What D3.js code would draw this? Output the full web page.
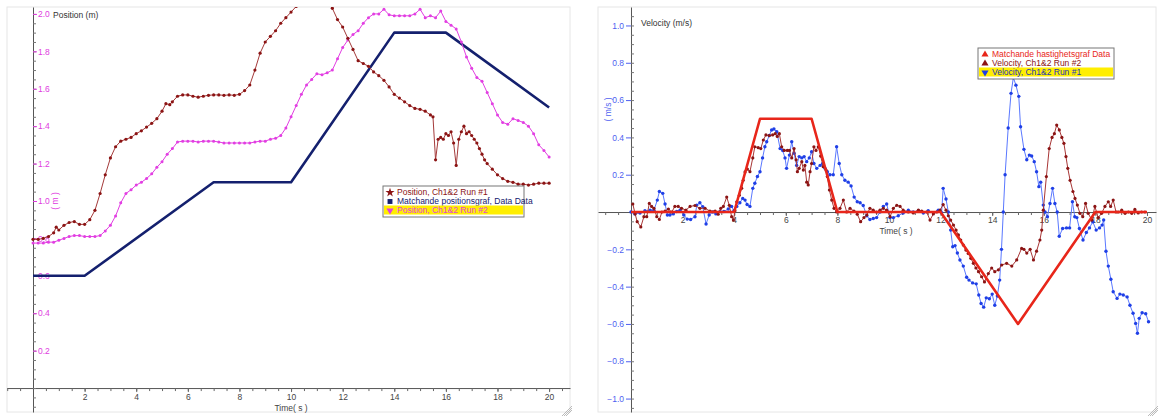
<!DOCTYPE html>
<html><head><meta charset="utf-8">
<script src="https://cdn.jsdelivr.net/npm/d3@7"></script>
<style>
body{margin:0;background:#fff;}
svg{display:block;font-family:"Liberation Sans",Arial,sans-serif;}
</style></head><body>
<svg id="c" width="1158" height="419"></svg>
<script>
// ---------------- DATA ----------------
const xTickLabels = [2,4,6,8,10,12,14,16,18,20];
const posTickLabels = [0.2,0.4,0.6,0.8,1.0,1.2,1.4,1.6,1.8,2.0];
const velTickLabels = [1.0,0.8,0.6,0.4,0.2,-0.2,-0.4,-0.6,-0.8,-1.0];

const posLegend = ["Position, Ch1&2 Run #1","Matchande positionsgraf, Data Data","Position, Ch1&2 Run #2"];
const velLegend = ["Matchande hastighetsgraf Data","Velocity, Ch1&2 Run #2","Velocity, Ch1&2 Run #1"];

// Matching position graph (model)
const posMatch = [[0,0.6],[2,0.6],[7,1.1],[10,1.1],[14,1.9],[16,1.9],[20,1.5]];

// Position Run #1 (brown)
const posRun1 = [[0,0.795],[0.2,0.795],[0.4,0.80],[0.6,0.81],[0.8,0.83],[0.9,0.86],[1.0,0.845],[1.2,0.87],[1.4,0.885],[1.6,0.89],[1.8,0.875],[2.0,0.875],[2.2,0.90],[2.4,0.95],[2.6,1.04],[2.8,1.14],[3.0,1.23],[3.2,1.29],[3.4,1.32],[3.6,1.33],[3.8,1.34],[4.0,1.36],[4.2,1.375],[4.4,1.395],[4.6,1.415],[4.8,1.44],[5.0,1.48],[5.15,1.52],[5.3,1.515],[5.4,1.53],[5.6,1.56],[5.8,1.567],[6.0,1.567],[6.2,1.56],[6.4,1.555],[6.6,1.56],[6.8,1.565],[7.0,1.567],[7.2,1.567],[7.4,1.565],[7.6,1.567],[7.8,1.565],[8.0,1.57],[8.2,1.59],[8.4,1.62],[8.6,1.70],[8.8,1.79],[9.0,1.85],[9.2,1.88],[9.4,1.91],[9.6,1.95],[9.8,1.98],[10.0,2.01],[10.2,2.04],[10.4,2.07],[10.6,2.09],[10.8,2.10],[11.0,2.10],[11.2,2.08],[11.4,2.06],[11.6,2.03],[11.8,1.97],[12.0,1.93],[12.2,1.87],[12.4,1.81],[12.6,1.75],[12.8,1.735],[13.0,1.72],[13.2,1.69],[13.4,1.67],[13.6,1.645],[13.8,1.61],[14.0,1.57],[14.2,1.55],[14.4,1.53],[14.6,1.51],[14.8,1.495],[15.0,1.49],[15.2,1.48],[15.4,1.46],[15.5,1.45],[15.6,1.22],[15.7,1.33],[15.8,1.34],[15.9,1.33],[16.0,1.36],[16.1,1.35],[16.2,1.37],[16.3,1.31],[16.4,1.19],[16.5,1.33],[16.6,1.37],[16.7,1.40],[16.8,1.36],[16.9,1.37],[17.0,1.35],[17.1,1.33],[17.2,1.31],[17.3,1.28],[17.4,1.25],[17.5,1.22],[17.6,1.20],[17.8,1.17],[18.0,1.14],[18.2,1.12],[18.4,1.105],[18.6,1.10],[18.8,1.09],[19.0,1.09],[19.2,1.085],[19.4,1.09],[19.6,1.095],[19.8,1.095],[20.0,1.095]];

// Position Run #2 (magenta)
const posRun2 = [[0,0.775],[0.2,0.775],[0.4,0.775],[0.6,0.78],[0.8,0.78],[1.0,0.79],[1.2,0.80],[1.4,0.81],[1.6,0.815],[1.8,0.815],[2.0,0.81],[2.2,0.81],[2.4,0.81],[2.6,0.815],[2.8,0.84],[3.0,0.87],[3.2,0.92],[3.4,0.99],[3.6,1.04],[3.8,1.06],[4.0,1.085],[4.2,1.10],[4.4,1.12],[4.6,1.145],[4.8,1.18],[5.0,1.21],[5.2,1.25],[5.4,1.28],[5.6,1.315],[5.8,1.32],[6.0,1.32],[6.2,1.32],[6.4,1.315],[6.6,1.32],[6.8,1.32],[7.0,1.32],[7.2,1.315],[7.4,1.31],[7.6,1.31],[7.8,1.31],[8.0,1.31],[8.2,1.31],[8.4,1.31],[8.6,1.315],[8.8,1.32],[9.0,1.32],[9.2,1.33],[9.4,1.335],[9.6,1.35],[9.8,1.39],[10.0,1.45],[10.2,1.51],[10.4,1.57],[10.6,1.62],[10.8,1.65],[11.0,1.68],[11.2,1.675],[11.4,1.685],[11.6,1.70],[11.8,1.76],[12.0,1.82],[12.2,1.86],[12.4,1.89],[12.6,1.91],[12.8,1.95],[13.0,1.98],[13.2,2.00],[13.4,2.00],[13.6,2.025],[13.8,1.995],[14.0,1.99],[14.2,1.99],[14.4,1.99],[14.6,1.99],[14.8,2.00],[15.0,2.025],[15.2,1.98],[15.4,1.99],[15.6,1.98],[15.8,2.015],[16.0,1.96],[16.2,1.94],[16.4,1.92],[16.6,1.85],[16.8,1.77],[17.0,1.71],[17.2,1.66],[17.4,1.64],[17.6,1.58],[17.8,1.52],[18.0,1.46],[18.2,1.42],[18.4,1.41],[18.6,1.44],[18.8,1.43],[19.0,1.42],[19.2,1.40],[19.4,1.36],[19.6,1.30],[19.8,1.27],[20.0,1.235]];

// Matching velocity graph (model)
const velMatch = [[0,0],[4,0],[5,0.5],[7,0.5],[8,0],[12,0],[15,-0.6],[18,0],[20,0]];

// Velocity Run #1 (blue)
const velRun1 = [[0,0],[0.15,-0.01],[0.35,-0.005],[0.54,0.007],[0.74,0.01],[0.89,0.01],[1.02,0.064],[1.1,0.11],[1.23,0.10],[1.32,0.043],[1.41,-0.016],[1.51,-0.016],[1.64,-0.01],[1.77,0.003],[1.9,0.01],[2.05,-0.016],[2.18,-0.038],[2.31,-0.04],[2.48,-0.025],[2.55,0.037],[2.67,0.05],[2.78,0.029],[2.91,-0.064],[3.03,-0.016],[3.17,0],[3.29,-0.01],[3.45,0.003],[3.6,0.003],[3.77,0.016],[3.9,0.03],[3.99,0.007],[4.1,0.03],[4.22,0.05],[4.33,0.073],[4.42,0.064],[4.5,0.04],[4.61,0.03],[4.72,0.127],[4.8,0.154],[4.9,0.19],[5.0,0.216],[5.1,0.29],[5.19,0.35],[5.26,0.377],[5.36,0.41],[5.45,0.44],[5.54,0.445],[5.65,0.43],[5.78,0.34],[5.88,0.33],[5.97,0.29],[6.03,0.234],[6.14,0.305],[6.23,0.377],[6.32,0.315],[6.42,0.25],[6.52,0.297],[6.62,0.29],[6.71,0.297],[6.81,0.27],[6.91,0.29],[7.0,0.323],[7.09,0.26],[7.2,0.234],[7.33,0.25],[7.43,0.26],[7.52,0.234],[7.61,0.216],[7.71,0.2],[7.84,0.2],[7.97,0.35],[8.07,0.26],[8.17,0.2],[8.29,0.17],[8.42,0.16],[8.53,0.14],[8.65,0.08],[8.77,0.055],[8.88,0.05],[9.0,0.035],[9.14,-0.02],[9.26,-0.04],[9.39,-0.035],[9.52,-0.03],[9.65,0],[9.78,0.03],[9.91,0.043],[10.04,-0.03],[10.17,-0.03],[10.36,-0.02],[10.55,-0.005],[10.75,0.01],[10.94,0],[11.14,0.007],[11.33,-0.005],[11.52,0.007],[11.72,-0.003],[11.91,0.01],[12.04,-0.003],[12.1,0.127],[12.21,0.07],[12.3,0],[12.39,-0.097],[12.47,-0.186],[12.56,-0.18],[12.65,-0.22],[12.75,-0.257],[12.88,-0.29],[13.01,-0.35],[13.1,-0.365],[13.24,-0.38],[13.38,-0.385],[13.48,-0.445],[13.57,-0.49],[13.67,-0.51],[13.77,-0.46],[13.89,-0.465],[14.0,-0.44],[14.1,-0.50],[14.2,-0.45],[14.29,-0.365],[14.36,-0.2],[14.43,0],[14.5,0.2],[14.62,0.45],[14.73,0.636],[14.82,0.72],[14.92,0.68],[15.03,0.62],[15.1,0.457],[15.23,0.336],[15.34,0.28],[15.44,0.305],[15.53,0.3],[15.63,0.27],[15.72,0.216],[15.81,0.136],[15.88,0.16],[15.98,0.037],[16.05,0],[16.14,-0.025],[16.24,0.046],[16.34,0.127],[16.43,0.046],[16.52,0],[16.6,-0.13],[16.73,-0.088],[16.88,-0.085],[17.0,-0.085],[17.11,0.055],[17.2,-0.025],[17.28,-0.03],[17.38,-0.088],[17.52,-0.15],[17.65,-0.11],[17.77,-0.085],[17.9,-0.052],[18.03,-0.097],[18.16,-0.085],[18.26,-0.07],[18.32,-0.043],[18.41,-0.21],[18.5,-0.29],[18.6,-0.36],[18.69,-0.427],[18.84,-0.463],[18.95,-0.44],[19.08,-0.445],[19.23,-0.455],[19.34,-0.5],[19.46,-0.543],[19.56,-0.597],[19.63,-0.65],[19.7,-0.57],[19.81,-0.54],[19.95,-0.545],[20.06,-0.588]];

// Velocity Run #2 (dark red)
const velRun2 = [[0.07,0.043],[0.16,-0.01],[0.24,-0.052],[0.38,-0.08],[0.5,-0.025],[0.61,-0.025],[0.71,0.046],[0.8,0.03],[0.89,0.02],[1.0,-0.025],[1.1,-0.04],[1.2,0],[1.32,0.005],[1.45,0.016],[1.58,0],[1.7,0.03],[1.83,0.03],[1.96,0.02],[2.13,0.01],[2.29,0.03],[2.48,0.035],[2.67,0.02],[2.87,0.02],[3.06,0.005],[3.26,0.005],[3.38,-0.012],[3.48,0.02],[3.58,0.03],[3.71,0.08],[3.81,0.036],[3.9,-0.025],[3.97,-0.043],[4.03,0.007],[4.1,0.055],[4.2,0.09],[4.29,0.127],[4.35,0.17],[4.42,0.215],[4.51,0.23],[4.61,0.216],[4.72,0.29],[4.8,0.35],[4.93,0.345],[5.03,0.34],[5.13,0.386],[5.23,0.413],[5.36,0.41],[5.49,0.413],[5.59,0.42],[5.67,0.405],[5.75,0.42],[5.84,0.35],[5.94,0.33],[6.06,0.33],[6.14,0.33],[6.23,0.29],[6.32,0.34],[6.4,0.28],[6.45,0.216],[6.52,0.234],[6.62,0.27],[6.68,0.225],[6.74,0.25],[6.81,0.16],[6.87,0.145],[6.94,0.216],[7.0,0.26],[7.09,0.35],[7.17,0.33],[7.26,0.35],[7.35,0.3],[7.45,0.243],[7.56,0.225],[7.61,0.19],[7.69,0.118],[7.78,0.064],[7.87,0.02],[7.97,0],[8.1,0.02],[8.23,0.064],[8.36,0],[8.49,0.02],[8.64,0.005],[8.77,-0.012],[8.9,-0.052],[9.03,-0.03],[9.14,-0.016],[9.26,0.02],[9.39,0.01],[9.52,0],[9.65,0.01],[9.78,0.02],[9.91,0.01],[10.04,-0.025],[10.17,0.02],[10.3,0.036],[10.43,0.03],[10.55,0.01],[10.75,0],[10.94,-0.005],[11.14,0.01],[11.27,0.005],[11.46,0],[11.59,-0.043],[11.72,-0.01],[11.85,0],[11.98,0.01],[12.1,0.04],[12.21,0.01],[12.3,-0.02],[12.39,-0.043],[12.5,-0.07],[12.6,-0.097],[12.69,-0.123],[12.78,-0.15],[12.88,-0.177],[12.98,-0.204],[13.07,-0.222],[13.17,-0.248],[13.27,-0.275],[13.37,-0.30],[13.47,-0.32],[13.59,-0.347],[13.7,-0.375],[13.85,-0.33],[13.98,-0.30],[14.1,-0.32],[14.24,-0.31],[14.37,-0.284],[14.56,-0.275],[14.76,-0.29],[14.95,-0.257],[15.14,-0.195],[15.23,-0.2],[15.34,-0.22],[15.47,-0.2],[15.6,-0.257],[15.72,-0.21],[15.85,-0.15],[15.92,-0.097],[15.98,0.01],[16.1,0.19],[16.21,0.34],[16.32,0.40],[16.41,0.42],[16.5,0.466],[16.6,0.44],[16.7,0.40],[16.78,0.368],[16.86,0.297],[16.93,0.234],[17.02,0.17],[17.13,0.11],[17.21,0.073],[17.3,0.037],[17.4,-0.007],[17.51,-0.025],[17.62,0.046],[17.72,-0.007],[17.86,-0.043],[17.98,0.03],[18.11,-0.03],[18.24,-0.007],[18.37,0.03],[18.5,0.055],[18.59,0.03],[18.69,0.064],[18.8,0],[18.88,0],[19.02,0.01],[19.15,-0.007],[19.28,0],[19.41,-0.007],[19.53,0.014],[19.66,-0.005],[19.79,0],[19.92,0]];

// ---------------- DRAW ----------------
const svg = d3.select("#c");
const FONT = 8.5;
const C = {
  brown:"#8b1414", brownLine:"#a43a3a", pink:"#e23ee2", navy:"#14206e",
  red:"#e8261a", blue:"#1f3fe6", blueLine:"#5a78ff", darkred:"#8b1414", darkredLine:"#a83636",
  posLbl:"#e03ce0", velLbl:"#4f5ff0", axis:"#555"
};

const PL = {x0:7,x1:570,y0:7,y1:412};
const PR = {x0:598,x1:1156,y0:7,y1:412};

const xL = d3.scaleLinear().domain([-1.008, 20.81]).range([PL.x0, PL.x1]);
const yL = d3.scaleLinear().domain([-0.128, 2.037]).range([PL.y1, PL.y0]);
const xR = d3.scaleLinear().domain([-1.279, 20.349]).range([PR.x0, PR.x1]);
const yR = d3.scaleLinear().domain([-1.072, 1.099]).range([PR.y1, PR.y0]);

function panel(P){
  svg.append("rect").attr("x",P.x0).attr("y",P.y0).attr("width",P.x1-P.x0).attr("height",P.y1-P.y0)
    .attr("fill","#fff").attr("stroke","#e6e6e6");
  const g = svg.append("g").attr("stroke","#aaa").attr("stroke-width",0.8);
  [6,4,2].forEach((d)=>{ g.append("line").attr("x1",P.x1-2-d).attr("y1",P.y1+4).attr("x2",P.x1+2).attr("y2",P.y1-d); });
}
panel(PL); panel(PR);

const defs = svg.append("defs");
defs.append("clipPath").attr("id","clipL").append("rect").attr("x",PL.x0).attr("y",PL.y0).attr("width",PL.x1-PL.x0).attr("height",PL.y1-PL.y0);
defs.append("clipPath").attr("id","clipR").append("rect").attr("x",PR.x0).attr("y",PR.y0).attr("width",PR.x1-PR.x0).attr("height",PR.y1-PR.y0);

function styleAxis(g, color, tickColor){
  g.selectAll(".domain").attr("stroke", C.axis);
  g.selectAll(".tick line").attr("stroke", tickColor);
  g.selectAll(".tick text").attr("fill", color).attr("font-size", FONT).attr("font-family","Liberation Sans, Arial, sans-serif");
}

// ---- Left axes ----
const fmt1 = d3.format(".1f");
const gLxMinor = svg.append("g").attr("transform",`translate(0,${yL(0)})`)
  .call(d3.axisBottom(xL).tickValues(d3.range(-1, 20.76, 0.5)).tickSize(3).tickSizeOuter(0).tickFormat(""));
styleAxis(gLxMinor,"#444","#666");
const gLx = svg.append("g").attr("transform",`translate(0,${yL(0)})`)
  .call(d3.axisBottom(xL).tickValues(xTickLabels).tickSize(4).tickSizeOuter(0).tickPadding(2));
styleAxis(gLx,"#444","#666");
gLx.select(".domain").remove();

const gLyMinor = svg.append("g").attr("transform",`translate(${xL(0)},0)`)
  .call(d3.axisRight(yL).tickValues(d3.range(-0.1, 2.03, 0.05)).tickSize(3).tickSizeOuter(0).tickFormat(""));
styleAxis(gLyMinor,C.posLbl,"#777");
const gLy = svg.append("g").attr("transform",`translate(${xL(0)},0)`)
  .call(d3.axisRight(yL).tickValues(posTickLabels).tickSize(4).tickPadding(1).tickFormat(fmt1));
styleAxis(gLy,C.posLbl,C.posLbl);
gLy.select(".domain").remove();

svg.append("text").attr("x",(xL(0)+xL(20))/2).attr("y",411).attr("text-anchor","middle")
  .attr("font-size",FONT).attr("fill","#444").text("Time( s )");
svg.append("text").attr("x",53).attr("y",18).attr("font-size",FONT).attr("fill","#333").text("Position (m)");
svg.append("text").attr("transform",`translate(58,${yL(1.0)}) rotate(-90)`).attr("text-anchor","middle")
  .attr("font-size",FONT).attr("fill",C.posLbl).text("( m )");

// ---- Right axes ----
const gRxMinor = svg.append("g").attr("transform",`translate(0,${yR(0)})`)
  .call(d3.axisBottom(xR).tickValues(d3.range(-1, 20.3, 0.5)).tickSize(3).tickSizeOuter(0).tickFormat(""));
styleAxis(gRxMinor,"#444","#666");
const gRx = svg.append("g").attr("transform",`translate(0,${yR(0)})`)
  .call(d3.axisBottom(xR).tickValues(xTickLabels).tickSize(4).tickSizeOuter(0).tickPadding(1));
styleAxis(gRx,"#444","#666");
gRx.select(".domain").remove();

const gRyMinor = svg.append("g").attr("transform",`translate(${xR(0)},0)`)
  .call(d3.axisRight(yR).tickValues(d3.range(-1.05, 1.08, 0.05)).tickSize(3).tickSizeOuter(0).tickFormat(""));
styleAxis(gRyMinor,C.velLbl,"#777");
const gRy = svg.append("g").attr("transform",`translate(${xR(0)},0)`)
  .call(d3.axisLeft(yR).tickValues(velTickLabels).tickSize(5).tickPadding(2).tickFormat(fmt1));
styleAxis(gRy,C.velLbl,C.velLbl);
gRy.select(".domain").remove();

svg.append("text").attr("x",896).attr("y",234).attr("text-anchor","middle")
  .attr("font-size",FONT).attr("fill","#444").text("Time( s )");
svg.append("text").attr("x",641).attr("y",26).attr("font-size",FONT).attr("fill","#333").text("Velocity (m/s)");
svg.append("text").attr("transform",`translate(611,${yR(0.55)}) rotate(-90)`).attr("text-anchor","middle")
  .attr("font-size",FONT).attr("fill",C.velLbl).text("( m/s )");

// ---- Series ----
function series(clip, xs, ys, data, lineColor, lw, dotColor, r){
  const g = svg.append("g").attr("clip-path",`url(#${clip})`);
  const line = d3.line().x(d=>xs(d[0])).y(d=>ys(d[1]));
  g.append("path").datum(data).attr("d",line).attr("fill","none").attr("stroke",lineColor)
    .attr("stroke-width",lw).attr("stroke-linejoin","round");
  if(r>0){
    g.selectAll("circle").data(data).join("circle").attr("cx",d=>xs(d[0])).attr("cy",d=>ys(d[1]))
      .attr("r",r).attr("fill",dotColor);
  }
}
series("clipL", xL, yL, posMatch, C.navy, 2.6, null, 0);
series("clipL", xL, yL, posRun2, C.pink, 1, C.pink, 1.5);
series("clipL", xL, yL, posRun1, C.brownLine, 1, C.brown, 1.6);

series("clipR", xR, yR, velRun1, C.blueLine, 1, C.blue, 1.7);
series("clipR", xR, yR, velRun2, C.darkredLine, 1, C.darkred, 1.6);
series("clipR", xR, yR, velMatch, C.red, 2.6, null, 0);

// ---- Legends ----
function legend(x, y, w, items){
  const rowH = 9;
  const g = svg.append("g");
  g.append("rect").attr("x",x).attr("y",y).attr("width",w).attr("height",rowH*items.length+4)
    .attr("fill","#fff").attr("stroke","#777").attr("stroke-width",1);
  items.forEach((it,i)=>{
    const cy = y + 6 + i*rowH;
    if(it.hl) g.append("rect").attr("x",x+1).attr("y",cy-4.5).attr("width",w-2).attr("height",rowH).attr("fill","#ffee00");
    const sym = d3.symbol().type(it.shape).size(it.size||22);
    g.append("path").attr("d",sym()).attr("fill",it.color)
      .attr("transform",`translate(${x+7},${cy+0.5}) rotate(${it.rot||0})`);
    g.append("text").attr("x",x+14).attr("y",cy).attr("dy","0.35em").attr("font-size",8.5)
      .attr("fill",it.textColor||it.color).text(it.label);
  });
}
legend(383, 186, 141, [
  {label:posLegend[0], color:C.brown, shape:d3.symbolStar, size:26},
  {label:posLegend[1], color:C.navy, shape:d3.symbolSquare, size:24},
  {label:posLegend[2], color:C.pink, shape:d3.symbolTriangle, rot:180, hl:true}
]);
legend(978, 48, 136, [
  {label:velLegend[0], color:C.red, shape:d3.symbolTriangle},
  {label:velLegend[1], color:C.darkred, shape:d3.symbolTriangle},
  {label:velLegend[2], color:C.blue, shape:d3.symbolTriangle, rot:180, hl:true, textColor:"#2233bb"}
]);
</script>
</body></html>
